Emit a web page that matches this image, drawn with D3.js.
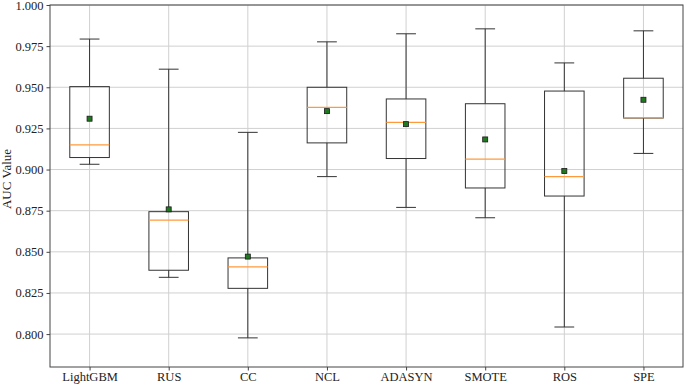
<!DOCTYPE html>
<html>
<head>
<meta charset="utf-8">
<script src="https://cdn.jsdelivr.net/npm/d3@7"></script>
<style>
  body { margin: 0; background: #fff; }
  svg text { font-family: "Liberation Serif", "Times New Roman", serif; }
</style>
</head>
<body>
<div id="chart"></div>
<script>
var methods = ["LightGBM", "RUS", "CC", "NCL", "ADASYN", "SMOTE", "ROS", "SPE"];
var whiskerLow = [0.9032, 0.8345, 0.7977, 0.8957, 0.8770, 0.8707, 0.8043, 0.9098];
var q1Values   = [0.9073, 0.8388, 0.8278, 0.9162, 0.9067, 0.8888, 0.8839, 0.9313];
var medians    = [0.9150, 0.8693, 0.8409, 0.9378, 0.9287, 0.9063, 0.8957, 0.9315];
var q3Values   = [0.9504, 0.8744, 0.8463, 0.9500, 0.9429, 0.9400, 0.9477, 0.9555];
var whiskerHigh= [0.9793, 0.9610, 0.9226, 0.9776, 0.9825, 0.9855, 0.9648, 0.9843];
var means      = [0.9309, 0.8758, 0.8471, 0.9355, 0.9276, 0.9183, 0.8991, 0.9424];
var yTicks = [0.800, 0.825, 0.850, 0.875, 0.900, 0.925, 0.950, 0.975, 1.000];

drawBoxes("chart", 685, 385);

function drawBoxes(container_id, width, height) {
	var margin = {top: 5, right: 2, bottom: 18, left: 50};
	var svg = d3.select("#" + container_id)
				.append("svg")
				.attr("width", width)
				.attr("height", height);

	var x = d3.scaleLinear().domain([0.5, 8.5]).range([margin.left, width - margin.right]);
	var y = d3.scaleLinear().domain([0.780, 1.000]).range([height - margin.bottom, margin.top]);
	var step = x(2) - x(1);

	var data = methods.map(function(m, i) {
		return {name: m, pos: i + 1, lo: whiskerLow[i], q1: q1Values[i], med: medians[i],
				q3: q3Values[i], hi: whiskerHigh[i], mean: means[i]};
	});

	// grid
	var grid = svg.append("g");
	grid.selectAll("line.h")
		.data(yTicks)
		.enter()
		.append("line")
		.attr("x1", x(0.5)).attr("x2", x(8.5))
		.attr("y1", function(d) { return y(d); })
		.attr("y2", function(d) { return y(d); })
		.attr("stroke", "#d0d0d0")
		.attr("stroke-width", 1);
	grid.selectAll("line.v")
		.data(data)
		.enter()
		.append("line")
		.attr("x1", function(d) { return x(d.pos); })
		.attr("x2", function(d) { return x(d.pos); })
		.attr("y1", y(0.780)).attr("y2", y(1.000))
		.attr("stroke", "#d0d0d0")
		.attr("stroke-width", 1);

	// boxes
	var boxCol = "#333";
	var g = svg.append("g");
	var box = g.selectAll("g.box")
		.data(data)
		.enter()
		.append("g");
	box.append("line")
		.attr("x1", function(d) { return x(d.pos); })
		.attr("x2", function(d) { return x(d.pos); })
		.attr("y1", function(d) { return y(d.hi); })
		.attr("y2", function(d) { return y(d.q3); })
		.attr("stroke", boxCol);
	box.append("line")
		.attr("x1", function(d) { return x(d.pos); })
		.attr("x2", function(d) { return x(d.pos); })
		.attr("y1", function(d) { return y(d.q1); })
		.attr("y2", function(d) { return y(d.lo); })
		.attr("stroke", boxCol);
	["hi", "lo"].forEach(function(k) {
		box.append("line")
			.attr("x1", function(d) { return x(d.pos - 0.125); })
			.attr("x2", function(d) { return x(d.pos + 0.125); })
			.attr("y1", function(d) { return y(d[k]); })
			.attr("y2", function(d) { return y(d[k]); })
			.attr("stroke", boxCol);
	});
	box.append("rect")
		.attr("x", function(d) { return x(d.pos - 0.25); })
		.attr("width", step * 0.5)
		.attr("y", function(d) { return y(d.q3); })
		.attr("height", function(d) { return y(d.q1) - y(d.q3); })
		.attr("fill", "none")
		.attr("stroke", boxCol);
	box.append("line")
		.attr("x1", function(d) { return x(d.pos - 0.25); })
		.attr("x2", function(d) { return x(d.pos + 0.25); })
		.attr("y1", function(d) { return y(d.med); })
		.attr("y2", function(d) { return y(d.med); })
		.attr("stroke", "#ff9a3c")
		.attr("stroke-width", 1.2);
	box.append("rect")
		.attr("x", function(d) { return x(d.pos) - 2.5; })
		.attr("y", function(d) { return y(d.mean) - 2.5; })
		.attr("width", 5).attr("height", 5)
		.attr("fill", "#1f7a1f")
		.attr("stroke", "#1a1a1a")
		.attr("stroke-width", 0.8);

	// axes
	var yAxis = d3.axisLeft(y).tickValues(yTicks).tickFormat(d3.format(".3f")).tickSize(3.5).tickPadding(3);
	var xAxis = d3.axisBottom(x).tickValues(data.map(function(d) { return d.pos; }))
				.tickFormat(function(d) { return methods[d - 1]; }).tickSize(3.5).tickPadding(2);
	var ya = svg.append("g").attr("transform", "translate(" + margin.left + ",0)").call(yAxis);
	var xa = svg.append("g").attr("transform", "translate(0," + y(0.780) + ")").call(xAxis);
	[ya, xa].forEach(function(a) {
		a.select(".domain").remove();
		a.selectAll("line").attr("stroke", "#444");
		a.selectAll("text").attr("font-size", "12.5px").attr("fill", "#222")
			.style("font-family", "'Liberation Serif', serif");
	});

	svg.append("rect")
		.attr("x", x(0.5)).attr("y", y(1.000))
		.attr("width", x(8.5) - x(0.5))
		.attr("height", y(0.780) - y(1.000))
		.attr("fill", "none")
		.attr("stroke", "#444")
		.attr("stroke-width", 1);

	svg.append("text")
		.attr("transform", "translate(11,179) rotate(-90)")
		.attr("text-anchor", "middle")
		.attr("font-size", "13px")
		.attr("fill", "#222")
		.text("AUC Value");
}
</script>
</body>
</html>
